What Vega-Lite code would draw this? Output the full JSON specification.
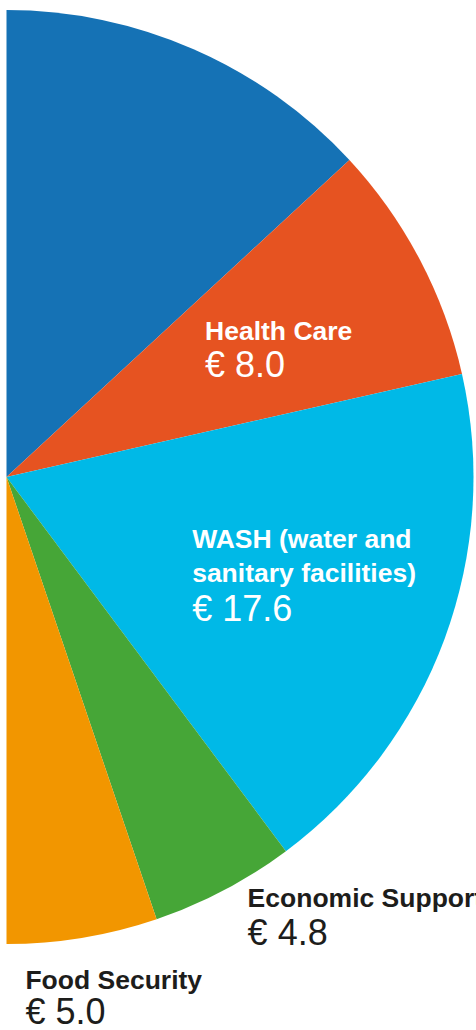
{
  "$schema": "https://vega.github.io/schema/vega-lite/v6.json",
  "width": 13,
  "height": 954,
  "autosize": {"type": "none"},
  "padding": {"left": 0, "top": 0, "right": 463, "bottom": 76},
  "background": "white",
  "config": {"view": {"stroke": null}},
  "data": {
    "values": [
      {"category": "Other", "label": "", "amount": "", "value": 12.6, "order": 1},
      {"category": "Health Care", "label": "Health Care", "amount": "€ 8.0", "value": 8.0, "order": 2},
      {"category": "WASH", "label": "WASH (water and\nsanitary facilities)", "amount": "€ 17.6", "value": 17.6, "order": 3},
      {"category": "Economic Support", "label": "Economic Support", "amount": "€ 4.8", "value": 4.8, "order": 4},
      {"category": "Food Security", "label": "Food Security", "amount": "€ 5.0", "value": 5.0, "order": 5}
    ]
  },
  "encoding": {
    "theta": {"field": "value", "type": "quantitative", "stack": true, "scale": {"domain": [0, 48], "range": [0, 3.14159265]}},
    "order": {"field": "order", "type": "quantitative"},
    "detail": {"field": "category", "type": "nominal"}
  },
  "layer": [
    {
      "mark": {"type": "arc", "outerRadius": 467},
      "encoding": {
        "color": {
          "field": "category", "type": "nominal", "legend": null,
          "scale": {
            "domain": ["Other", "Health Care", "WASH", "Economic Support", "Food Security"],
            "range": ["#1572B5", "#E65321", "#00B9E7", "#46A637", "#F29600"]
          }
        }
      }
    },
    {
      "mark": {"type": "text", "radius": 230, "align": "left", "baseline": "alphabetic", "dx": -5, "dy": -30, "font": "Liberation Sans", "fontWeight": "bold", "fontSize": 26.5, "color": "white"},
      "encoding": {"text": {"field": "label"}, "opacity": {"condition": {"test": "datum.category === 'Health Care'", "value": 1}, "value": 0}}
    },
    {
      "mark": {"type": "text", "radius": 230, "align": "left", "baseline": "alphabetic", "dx": -5, "dy": 7, "font": "Liberation Sans", "fontSize": 36, "color": "white"},
      "encoding": {"text": {"field": "amount"}, "opacity": {"condition": {"test": "datum.category === 'Health Care'", "value": 1}, "value": 0}}
    },
    {
      "mark": {"type": "text", "radius": 200, "align": "left", "baseline": "alphabetic", "dx": -2, "dy": 2, "font": "Liberation Sans", "fontWeight": "bold", "fontSize": 26.5, "lineBreak": "\n", "lineHeight": 34, "color": "white"},
      "encoding": {"text": {"field": "label"}, "opacity": {"condition": {"test": "datum.category === 'WASH'", "value": 1}, "value": 0}}
    },
    {
      "mark": {"type": "text", "radius": 200, "align": "left", "baseline": "alphabetic", "dx": -2, "dy": 75, "font": "Liberation Sans", "fontSize": 36, "color": "white"},
      "encoding": {"text": {"field": "amount"}, "opacity": {"condition": {"test": "datum.category === 'WASH'", "value": 1}, "value": 0}}
    },
    {
      "mark": {"type": "text", "radius": 520, "align": "left", "baseline": "alphabetic", "dx": -1, "dy": -30, "font": "Liberation Sans", "fontWeight": "bold", "fontSize": 26.5, "color": "#1d1d1b"},
      "encoding": {"text": {"field": "label"}, "opacity": {"condition": {"test": "datum.category === 'Economic Support'", "value": 1}, "value": 0}}
    },
    {
      "mark": {"type": "text", "radius": 520, "align": "left", "baseline": "alphabetic", "dx": -1, "dy": 8, "font": "Liberation Sans", "fontSize": 36, "color": "#1d1d1b"},
      "encoding": {"text": {"field": "amount"}, "opacity": {"condition": {"test": "datum.category === 'Economic Support'", "value": 1}, "value": 0}}
    },
    {
      "mark": {"type": "text", "radius": 515, "align": "left", "baseline": "alphabetic", "dx": -65, "dy": 4, "font": "Liberation Sans", "fontWeight": "bold", "fontSize": 26.5, "color": "#1d1d1b"},
      "encoding": {"text": {"field": "label"}, "opacity": {"condition": {"test": "datum.category === 'Food Security'", "value": 1}, "value": 0}}
    },
    {
      "mark": {"type": "text", "radius": 515, "align": "left", "baseline": "alphabetic", "dx": -65, "dy": 39, "font": "Liberation Sans", "fontSize": 36, "color": "#1d1d1b"},
      "encoding": {"text": {"field": "amount"}, "opacity": {"condition": {"test": "datum.category === 'Food Security'", "value": 1}, "value": 0}}
    }
  ]
}
